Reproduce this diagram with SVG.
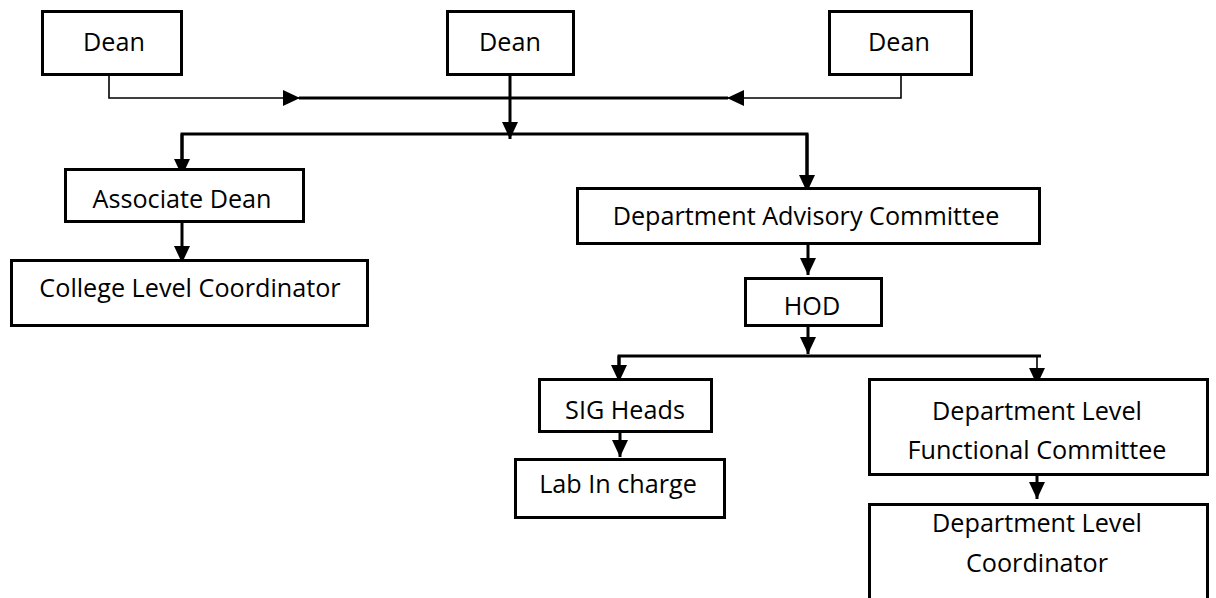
<svg xmlns="http://www.w3.org/2000/svg" width="1216" height="598" viewBox="0 0 1216 598">
<style>
.box{fill:#fff;stroke:#000;stroke-width:3}
.t{font-family:"Open Sans","Noto Sans",sans-serif;font-size:25.2px;fill:#000;text-anchor:middle}
.c{fill:none;stroke:#000;stroke-width:3}
.thin{fill:none;stroke:#000;stroke-width:1.6}
</style>
<defs>
<marker id="ah" markerUnits="userSpaceOnUse" markerWidth="17" markerHeight="16" refX="17" refY="8" orient="auto">
<path d="M0,0 L17,8 L0,16 z" fill="#000"/>
</marker>
</defs>
<rect width="1216" height="598" fill="#fff"/>
<g id="connectors">
<polyline class="thin" points="109,71 109,98 300,98" marker-end="url(#ah)"/>
<line class="c" x1="299" y1="98" x2="728" y2="98"/>
<polyline class="thin" points="901,71 901,98 727,98" marker-end="url(#ah)"/>
<line class="c" x1="510" y1="71" x2="510" y2="139" marker-end="url(#ah)"/>
<polyline class="c" points="182,175 182,134 807,134 807,192"/>
<line class="c" x1="182" y1="134" x2="182" y2="176" marker-end="url(#ah)"/>
<line class="c" x1="807" y1="134" x2="807" y2="192" marker-end="url(#ah)"/>
<line class="c" x1="182" y1="223" x2="182" y2="263" marker-end="url(#ah)"/>
<line class="c" x1="808" y1="243" x2="808" y2="275" marker-end="url(#ah)"/>
<line class="c" x1="808" y1="325" x2="808" y2="354" marker-end="url(#ah)"/>
<polyline class="c" points="619,382 619,356 1041,356"/>
<line class="c" x1="619" y1="356" x2="619" y2="382" marker-end="url(#ah)"/>
<line class="thin" x1="1037" y1="356" x2="1037" y2="385" marker-end="url(#ah)"/>
<line class="c" x1="620" y1="433" x2="620" y2="457" marker-end="url(#ah)"/>
<line class="c" x1="1037" y1="476" x2="1037" y2="499" marker-end="url(#ah)"/>
</g>
<g id="dean1"><rect class="box" x="42.5" y="11.5" width="139" height="63"/><text class="t" x="114" y="51">Dean</text></g>
<g id="dean2"><rect class="box" x="447.5" y="11.5" width="126" height="63"/><text class="t" x="510" y="51">Dean</text></g>
<g id="dean3"><rect class="box" x="829.5" y="11.5" width="142" height="63"/><text class="t" x="899" y="51">Dean</text></g>
<g id="associate-dean"><rect class="box" x="65.5" y="169.5" width="238" height="52"/><text class="t" x="182" y="208">Associate Dean</text></g>
<g id="college-level-coordinator"><rect class="box" x="11.5" y="260.5" width="356" height="65"/><text class="t" x="190" y="297">College Level Coordinator</text></g>
<g id="dept-advisory"><rect class="box" x="577.5" y="188.5" width="462" height="55"/><text class="t" x="806" y="225">Department Advisory Committee</text></g>
<g id="hod"><rect class="box" x="745.5" y="278.5" width="136" height="47"/><text class="t" x="812" y="315">HOD</text></g>
<g id="sig-heads"><rect class="box" x="539.5" y="379.5" width="172" height="52"/><text class="t" x="625" y="419">SIG Heads</text></g>
<g id="lab-in-charge"><rect class="box" x="515.5" y="459.5" width="209" height="58"/><text class="t" x="618" y="493">Lab In charge</text></g>
<g id="dept-functional"><rect class="box" x="869.5" y="379.5" width="338" height="95"/><text class="t" x="1037" y="420">Department Level</text><text class="t" x="1037" y="459">Functional Committee</text></g>
<g id="dept-coordinator"><rect class="box" x="869.5" y="504.5" width="338" height="120"/><text class="t" x="1037" y="532">Department Level</text><text class="t" x="1037" y="572">Coordinator</text></g>
</svg>
